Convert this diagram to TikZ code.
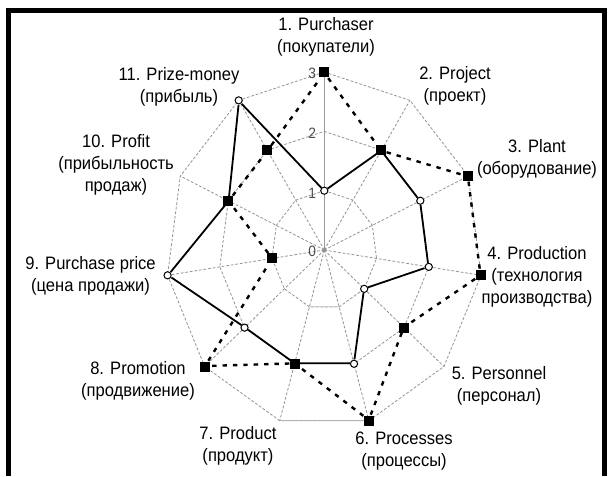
\documentclass[tikz,border=0pt]{standalone}
\usepackage{fontspec}
\setmainfont{Liberation Sans}[FakeStretch=0.92]

\begin{document}
\begin{tikzpicture}
[x=0.5pt, y=-0.5pt,
 grid/.style={gray!85, line width=0.4pt, dash pattern=on 1.4pt off 0.9pt},
 spoke/.style={gray!80, line width=0.6pt},
 opn/.style={circle, draw=black, fill=white, line width=0.5pt, inner sep=0pt, minimum size=3.6pt},
 sq/.style={rectangle, fill=black, inner sep=0pt, minimum size=5pt},
 plan/.style={line width=0.9pt},
 fact/.style={line width=1.2pt, dash pattern=on 2.2pt off 3pt},
 lab/.style={align=center, inner sep=0pt, font=\fontsize{9}{11}\selectfont},
 lvl/.style={anchor=east, inner sep=0pt, text=black!70, font=\fontsize{7.5}{8}\selectfont}]
\useasboundingbox (0,0) rectangle (609,476);
% frame, open at the bottom
\draw[line width=2.5pt] (8.5,476) -- (8.5,11) -- (604,11) -- (604,476);

\begin{scope}[shift={(324.3,250)}, xscale=52.78, yscale=-59.3]
% web: levels 1..3 and spokes
\draw[grid] (90:1) -- (57.27:1) -- (24.55:1) -- (-8.18:1) -- (-40.91:1) -- (-73.64:1) -- (-106.36:1) -- (-139.09:1) -- (-171.82:1) -- (155.45:1) -- (122.73:1) -- cycle;
\draw[grid] (90:2) -- (57.27:2) -- (24.55:2) -- (-8.18:2) -- (-40.91:2) -- (-73.64:2) -- (-106.36:2) -- (-139.09:2) -- (-171.82:2) -- (155.45:2) -- (122.73:2) -- cycle;
\draw[grid] (90:3) -- (57.27:3) -- (24.55:3) -- (-8.18:3) -- (-40.91:3) -- (-73.64:3) -- (-106.36:3) -- (-139.09:3) -- (-171.82:3) -- (155.45:3) -- (122.73:3) -- cycle;
\draw[grid] (0,0) -- (57.27:3) (0,0) -- (24.55:3) (0,0) -- (-8.18:3) (0,0) -- (-40.91:3) (0,0) -- (-73.64:3);
\draw[grid] (0,0) -- (-106.36:3) (0,0) -- (-139.09:3) (0,0) -- (-171.82:3) (0,0) -- (155.45:3) (0,0) -- (122.73:3);
\draw[spoke] (0,0) -- (90:3);
\draw[gray!60, line width=0.6pt] (-73.64:3) -- (-106.36:3);
\draw[gray!40, line width=0.5pt] (-73.64:1) -- (-106.36:1);
% solid series
\node[opn] (s1) at (90:1) {};
\node[opn] (s2) at (57.27:2) {};
\node[opn] (s3) at (24.55:2) {};
\node[opn] (s4) at (-8.18:2) {};
\node[opn] (s5) at (-40.91:1) {};
\node[opn] (s6) at (-73.64:2) {};
\node[opn] (s7) at (-106.36:2) {};
\node[opn] (s8) at (-139.09:2) {};
\node[opn] (s9) at (-171.82:3) {};
\node[opn] (s10) at (155.45:2) {};
\node[opn] (s11) at (122.73:3) {};
% dashed series
\node[sq] (d1) at (90:3) {};
\node[sq] (d2) at (57.27:2) {};
\node[sq] (d3) at (24.55:3) {};
\node[sq] (d4) at (-8.18:3) {};
\node[sq] (d5) at (-40.91:2) {};
\node[sq] (d6) at (-73.64:3) {};
\node[sq] (d7) at (-106.36:2) {};
\node[sq] (d8) at (-139.09:3) {};
\node[sq] (d9) at (-171.82:1) {};
\node[sq] (d10) at (155.45:2) {};
\node[sq] (d11) at (122.73:2) {};
\draw[plan] (s1) -- (s2) -- (s3) -- (s4) -- (s5) -- (s6) -- (s7) -- (s8) -- (s9) -- (s10) -- (s11) -- (s1);
\draw[fact] (d1) -- (d2) -- (d3) -- (d4) -- (d5) -- (d6) -- (d7) -- (d8) -- (d9) -- (d10) -- (d11) -- (d1);
\end{scope}

% scale on axis 1
\node[lvl] (t0) at (316.5,251.5) {0};
\node[lvl] (t1) at (316.5,193) {1};
\node[lvl] (t2) at (316.5,133) {2};
\node[lvl] (t3) at (316.5,73) {3};

\node[lab] (l1) at (326,37) {1. Purchaser\\(покупатели)};
\node[lab] (l2) at (455,86) {2. Project\\(проект)};
\node[lab] (l3) at (537,159) {3. Plant\\(оборудование)};
\node[lab] (l4) at (537,277) {4. Production\\(технология\\производства)};
\node[lab] (l5) at (499,386) {5. Personnel\\(персонал)};
\node[lab] (l6) at (404,451) {6. Processes\\(процессы)};
\node[lab] (l7) at (238,446) {7. Product\\(продукт)};
\node[lab] (l8) at (138,381) {8. Promotion\\(продвижение)};
\node[lab] (l9) at (90.5,276) {9. Purchase price\\(цена продажи)};
\node[lab] (l10) at (116,165) {10. Profit\\(прибыльность\\продаж)};
\node[lab] (l11) at (179,87) {11. Prize-money\\(прибыль)};
\end{tikzpicture}
\end{document}
